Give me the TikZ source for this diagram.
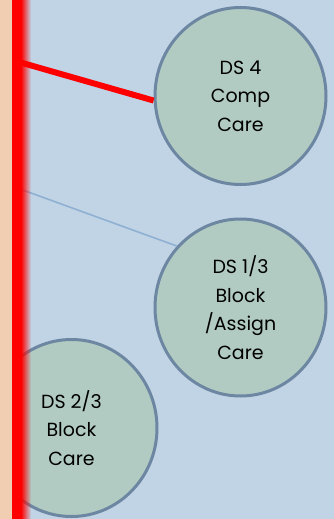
\documentclass[tikz,border=0pt]{standalone}
\usepackage{fontspec}
\setmainfont{Poppins}
\usetikzlibrary{fadings,shapes.geometric}
\definecolor{bgblue}{HTML}{C1D4E5}
\definecolor{peach}{HTML}{F1CDB1}
\definecolor{sage}{HTML}{B1CBC3}
\definecolor{slate}{HTML}{6D87A3}
\definecolor{thinblue}{HTML}{8FB0D2}
\definecolor{barred}{HTML}{FF0000}
\tikzset{
  dsnode/.style={ellipse, draw=slate, line width=3pt, fill=sage,
    align=center, inner sep=0pt, text=black,
    minimum width=171pt, minimum height=177pt,
    font=\fontsize{19}{28.5}\selectfont},
  redlink/.style={draw=barred, line width=6pt},
  bluelink/.style={draw=thinblue, line width=1.6pt},
}
\begin{document}
\begin{tikzpicture}[x=1pt, y=-1pt]
  % page background
  \fill[bgblue] (0,0) rectangle (334,519);
  \useasboundingbox (0,0) rectangle (334,519);

  % care-level circles
  \node[dsnode] (ds4) at (240.5,96) {DS 4\\Comp\\Care};
  \node[dsnode] (ds13) at (240.5,307.5) {DS 1/3\\Block\\/Assign\\Care};
  \node[dsnode] (ds23) at (71.5,428) {DS 2/3\\Block\\Care};

  % links from the timeline bar
  \coordinate (r1) at (12,60);
  \coordinate (b1) at (20,189);
  \draw[redlink] (r1) -- (ds4.183);
  \draw[bluelink] (b1) -- (ds13.136);

  % left margin strip and timeline bar with soft right edge
  \fill[peach] (0,0) rectangle (12,519);
  \fill[barred] (12,0) rectangle (21.5,519);
  \fill[barred, path fading=east] (21,0) rectangle (31,519);
\end{tikzpicture}
\end{document}
